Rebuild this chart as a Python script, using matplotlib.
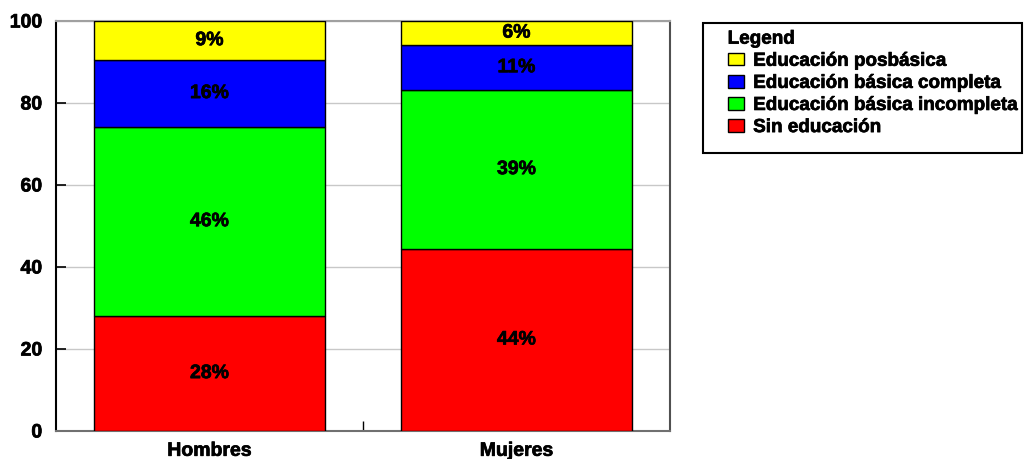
import matplotlib
matplotlib.use("Agg")
import matplotlib.pyplot as plt
from matplotlib.patches import Patch, Rectangle
import matplotlib.patheffects as pe
import numpy as np

plt.rcParams['font.family'] = ['Liberation Sans', 'DejaVu Sans']
plt.rcParams['font.weight'] = 'bold'

groups = ["Hombres", "Mujeres"]
levels = ["Sin educación", "Educación básica incompleta",
          "Educación básica completa", "Educación posbásica"]
sin_educacion = [28.0, 44.4]
basica_incompleta = [46.1, 38.7]
basica_completa = [16.4, 11.0]
posbasica = [9.4, 5.9]
colors = ["#FF0000", "#00FF00", "#0000FF", "#FFFF00"]

series = [sin_educacion, basica_incompleta, basica_completa, posbasica]

heavy = [pe.withStroke(linewidth=0.5, foreground="black")]

fig = plt.figure(figsize=(10.24, 4.59), dpi=100)
ax = fig.add_axes([56 / 1024, 28 / 459, 614 / 1024, 410 / 459])

x = np.arange(len(groups))
bottom = np.zeros(len(groups))
for vals, col in zip(series, colors):
    bars = ax.bar(x, vals, width=0.75, bottom=bottom, color=col,
                  edgecolor="black", linewidth=1.0, zorder=3)
    texts = ax.bar_label(bars, labels=[f"{round(v)}%" for v in vals],
                         label_type="center", fontsize=14, fontweight="bold",
                         color="black")
    for t in texts:
        t.set_path_effects(heavy)
    bottom += np.array(vals)

ax.set_xlim(-0.5, 1.5)
ax.set_ylim(0, 100)
ax.set_yticks([0, 20, 40, 60, 80, 100])
ax.tick_params(axis="y", direction="in", length=7, width=1.2, color="black",
               pad=10, labelsize=14)
ax.set_xticks(x)
ax.set_xticklabels(groups)
ax.tick_params(axis="x", length=0, pad=8.5, labelsize=14)
ax.set_xticks([0.5], minor=True)
ax.tick_params(axis="x", which="minor", direction="in", length=7, width=1,
               color="black")
for lbl in ax.get_yticklabels() + ax.get_xticklabels():
    lbl.set_fontweight("bold")
    lbl.set_path_effects(heavy)

ax.yaxis.grid(True, color="#c8c8c8", linewidth=1, zorder=0)
ax.set_axisbelow(True)

ax.spines["left"].set_color("black")
ax.spines["left"].set_linewidth(1.5)
ax.spines["top"].set_color("#a0a0a0")
ax.spines["top"].set_linewidth(1.5)
ax.spines["right"].set_color("#505050")
ax.spines["right"].set_linewidth(1.5)
ax.spines["bottom"].set_color("#707070")
ax.spines["bottom"].set_linewidth(1.5)

# legend box frame
fig.patches.append(Rectangle((703 / 1024, 1 - 153 / 459), 319 / 1024, 130 / 459,
                             transform=fig.transFigure, facecolor="white",
                             edgecolor="black", linewidth=1.5, zorder=1))

handles = [Patch(facecolor=c, edgecolor="black", linewidth=1.0)
           for c in colors[::-1]]
leg = fig.legend(handles, levels[::-1], title="Legend",
                 loc="upper left", bbox_to_anchor=(722 / 1024, 1 - 25 / 459),
                 frameon=False, fontsize=13.6, title_fontsize=13.6,
                 alignment="left",
                 handlelength=0.85, handleheight=0.65, handletextpad=0.5,
                 labelspacing=0.27, borderpad=0.3, borderaxespad=0)
leg.set_zorder(2)
leg.get_title().set_fontweight("bold")
leg.get_title().set_path_effects(heavy)
for t in leg.get_texts():
    t.set_fontweight("bold")
    t.set_path_effects(heavy)

fig.savefig("out.png", dpi=100)
